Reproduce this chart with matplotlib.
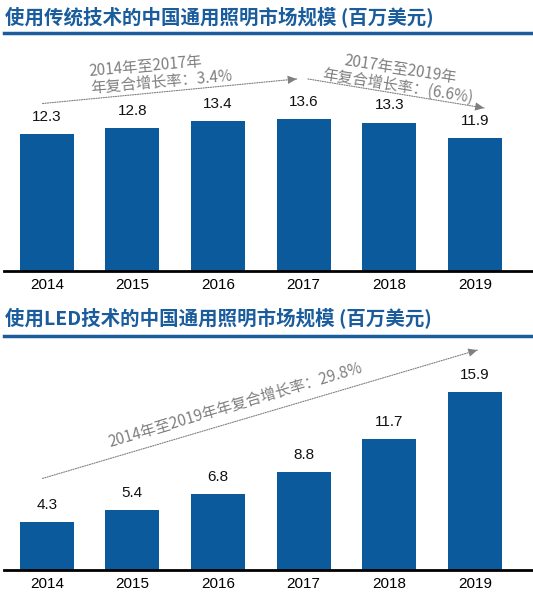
import matplotlib.pyplot as plt
from matplotlib.lines import Line2D

years = ["2014", "2015", "2016", "2017", "2018", "2019"]
traditional = [12.3, 12.8, 13.4, 13.6, 13.3, 11.9]
led = [4.3, 5.4, 6.8, 8.8, 11.7, 15.9]

title_top = "使用传统技术的中国通用照明市场规模 (百万美元)"
title_bottom = "使用LED技术的中国通用照明市场规模 (百万美元)"

BLUE = "#0b5a9c"
TITLE_BLUE = "#1a5c9c"
GREY = "#7f7f7f"
CJK = ["Noto Sans CJK SC", "DejaVu Sans"]
LATIN = ["Liberation Sans", "DejaVu Sans"]

W, H = 533, 597
fig = plt.figure(figsize=(W / 100, H / 100), dpi=100)


def px_axes(left, top, right, bottom):
    return fig.add_axes([left / W, 1 - bottom / H, (right - left) / W, (bottom - top) / H])


def header(text, y_text, y_line):
    fig.text(5 / W, 1 - y_text / H, text, fontsize=14, fontweight="bold",
             color=TITLE_BLUE, family=CJK, va="center", ha="left")
    fig.add_artist(Line2D([4 / W, 1], [1 - y_line / H] * 2, color=TITLE_BLUE, lw=2.5))


def bars(ax, values):
    x = range(len(values))
    ax.bar(x, values, width=0.63, color=BLUE)
    for i, v in enumerate(values):
        ax.text(i, v + 0.9, f"{v:.1f}", ha="center", va="bottom", fontsize=11,
                family=LATIN, color="#111111")
    ax.set_xlim(-0.5, 5.68)
    ax.set_ylim(0, 20.6)
    ax.set_xticks(list(x))
    ax.set_xticklabels(years, fontsize=11, family=LATIN)
    ax.tick_params(axis="x", length=0, pad=5)
    ax.set_yticks([])
    for s in ["top", "right", "left"]:
        ax.spines[s].set_visible(False)
    ax.spines["bottom"].set_linewidth(2)
    ax.patch.set_visible(False)


def trend(ax, start, end):
    # dotted shaft, then a small solid head
    ax.annotate("", xy=end, xytext=start,
                arrowprops=dict(arrowstyle="-", linestyle=(0, (1, 1.2)), color=GREY,
                                lw=0.8, shrinkA=0, shrinkB=0))
    ax.annotate("", xy=end, xytext=start,
                arrowprops=dict(arrowstyle="-|>,head_length=0.65,head_width=0.3",
                                color=GREY, lw=0, shrinkA=0, shrinkB=0))


# top panel
header(title_top, 17, 33)
ax1 = px_axes(4, 41, 533, 271)
bars(ax1, traditional)
trend(ax1, (-0.05, 15.0), (2.92, 17.2))
trend(ax1, (3.05, 17.2), (5.11, 14.6))
ax1.text(1.33, 17.7, "2014年至2017年\n年复合增长率：3.4%", rotation=5, ha="center",
         va="center", multialignment="left", fontsize=11, color=GREY, family=CJK,
         fontweight="medium", linespacing=1.0, rotation_mode="anchor")
ax1.text(4.12, 17.3, "2017年至2019年\n年复合增长率：(6.6%)", rotation=-9, ha="center",
         va="center", multialignment="center", fontsize=11, color=GREY, family=CJK,
         fontweight="medium", linespacing=1.0, rotation_mode="anchor")

# bottom panel
header(title_bottom, 318, 336)
ax2 = px_axes(4, 340, 533, 570)
bars(ax2, led)
trend(ax2, (-0.05, 8.2), (5.03, 19.7))
ax2.text(2.2, 14.8, "2014年至2019年年复合增长率：29.8%", rotation=16.5, ha="center",
         va="center", fontsize=11, color=GREY, family=CJK, fontweight="medium",
         rotation_mode="anchor")

fig.savefig("out.png", dpi=100)
